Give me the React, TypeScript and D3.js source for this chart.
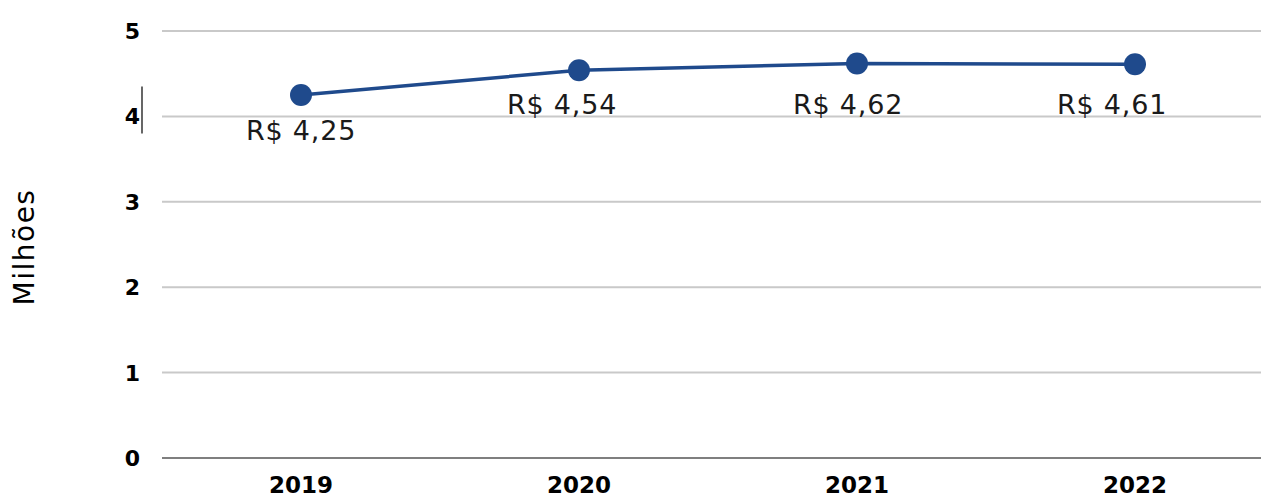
import React from 'react'
import * as d3 from 'd3'

const years = ['2019', '2020', '2021', '2022']
const values = [4.25, 4.54, 4.62, 4.61]
const labels = ['R$ 4,25', 'R$ 4,54', 'R$ 4,62', 'R$ 4,61']
const yTicks = [0, 1, 2, 3, 4, 5]

// label offsets relative to the point (as placed in the original)
const labelDx = [0, -17, -9, -23]
const labelDy = [45, 44, 51, 50]

const W = 1261
const H = 500
const left = 162
const top = 31
const bottom = 458

const App = () => {
  const x = d3.scaleBand<string>().domain(years).range([left, left + 278 * 4])
  const y = d3.scaleLinear().domain([0, 5]).range([bottom, top])
  const cx = (d: string) => (x(d) as number) + x.bandwidth() / 2

  const line = d3
    .line<number>()
    .x((_, i) => cx(years[i]))
    .y((d) => y(d))

  return (
    <svg width={W} height={H} style={{ position: 'absolute', left: 0, top: 0, background: '#fff' }}>
      {yTicks.map((t) => (
        <g key={t}>
          <line
            x1={left}
            x2={W}
            y1={y(t)}
            y2={y(t)}
            stroke={t === 0 ? '#7f7f7f' : '#c9c9c9'}
            strokeWidth={2}
          />
          <text
            x={140}
            y={y(t)}
            dy="0.36em"
            textAnchor="end"
            fontFamily="DejaVu Sans"
            fontWeight="bold"
            fontSize={22}
            fill="#000"
          >
            {t}
          </text>
        </g>
      ))}
      <line x1={142} x2={142} y1={y(4.35)} y2={y(3.8)} stroke="#000" strokeWidth={1.2} />

      {years.map((d) => (
        <text
          key={d}
          x={cx(d)}
          y={493}
          textAnchor="middle"
          fontFamily="DejaVu Sans"
          fontWeight="bold"
          fontSize={23}
          fill="#000"
        >
          {d}
        </text>
      ))}

      <text
        transform={`translate(34, ${247}) rotate(-90)`}
        textAnchor="middle"
        fontFamily="DejaVu Sans"
        fontSize={28}
        letterSpacing={1.5}
        fill="#000"
      >
        Milhões
      </text>

      <path d={line(values) as string} fill="none" stroke="#1f4a8c" strokeWidth={3.5} />
      {values.map((v, i) => (
        <circle key={i} cx={cx(years[i])} cy={y(v)} r={11} fill="#1f4a8c" />
      ))}
      {values.map((v, i) => (
        <text
          key={i}
          x={cx(years[i]) + labelDx[i]}
          y={y(v) + labelDy[i]}
          textAnchor="middle"
          fontFamily="DejaVu Sans"
          fontSize={27}
          letterSpacing={0.8}
          fill="#1a1a1a"
        >
          {labels[i]}
        </text>
      ))}
    </svg>
  )
}

export default App
